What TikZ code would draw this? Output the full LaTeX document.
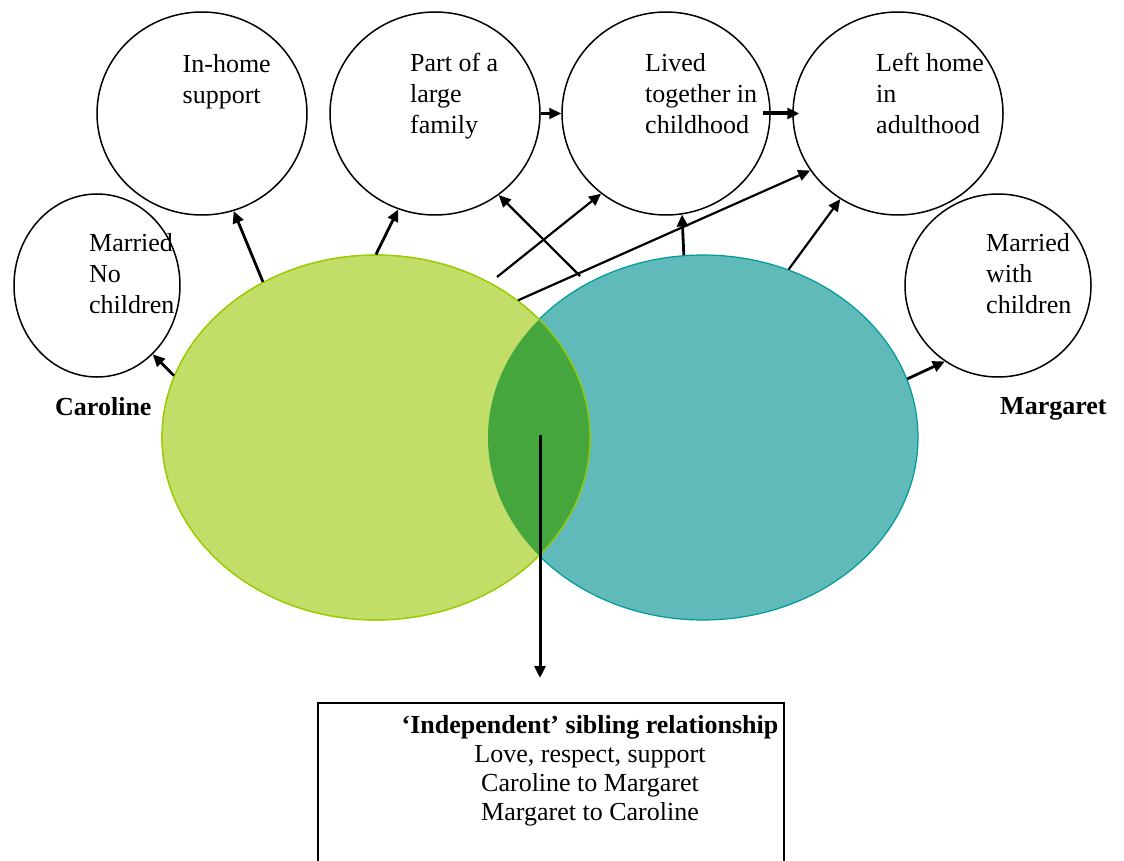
\documentclass[tikz,border=0pt]{standalone}
\usepackage{fontspec}
\setmainfont{Liberation Serif}
\usetikzlibrary{arrows.meta,shapes.geometric}

\definecolor{carolinefill}{RGB}{194,222,104}
\definecolor{carolineedge}{RGB}{153,204,0}
\definecolor{margaretfill}{RGB}{96,186,186}
\definecolor{margaretedge}{RGB}{0,153,153}
\definecolor{sharedfill}{RGB}{68,166,60}

\begin{document}
\begin{tikzpicture}[x=1pt,y=-1pt,
  theme/.style={ellipse, draw=black, line width=1.5pt, inner sep=0pt},
  sister/.style={ellipse, inner sep=0pt, line width=1.2pt, minimum height=365pt},
  % multi-line texts are anchored at the baseline of their last line
  circtext/.style={align=left, anchor=base west, inner sep=0pt, font=\fontsize{26}{31}\selectfont},
  namelabel/.style={anchor=base west, inner sep=0pt, font=\fontsize{26}{31}\selectfont\bfseries},
  link/.style={line width=2.8pt, -{Triangle[length=12pt,width=11pt]}},
  thinlink/.style={link, line width=2.2pt},
]
\useasboundingbox (0,0) rectangle (1124,861);

% the two sisters
\node[sister, fill=margaretfill, draw=margaretedge, minimum width=430pt] (margaret) at (703,437.5) {};
\node[sister, fill=carolinefill, draw=carolineedge, minimum width=428pt] (caroline) at (376,437.5) {};
\begin{scope}
  \clip (376,437.5) ellipse [x radius=214pt, y radius=182.5pt];
  \fill[sharedfill] (703,437.5) ellipse [x radius=215pt, y radius=182.5pt];
\end{scope}
\draw[carolineedge, line width=1.2pt] (376,437.5) ellipse [x radius=214pt, y radius=182.5pt];

% life-course themes
\node[theme, minimum width=210pt, minimum height=203pt] (inhome)   at (202,113.5) {};
\node[theme, minimum width=210pt, minimum height=203pt] (family)   at (435,113.5) {};
\node[theme, minimum width=208pt, minimum height=203pt] (together) at (666,113.5) {};
\node[theme, minimum width=210pt, minimum height=203pt] (lefthome) at (898,113.5) {};
\node[theme, minimum width=166pt, minimum height=183pt] (nokids)   at (97,285.5) {};
\node[theme, minimum width=186pt, minimum height=183pt] (withkids) at (998,285.5) {};

\node[circtext] (inhomeT)   at (182.5,104) {In-home\\support};
\node[circtext] (familyT)   at (410,134)   {Part of a\\large\\family};
\node[circtext] (togetherT) at (645,134)   {Lived\\together in\\childhood};
\node[circtext] (lefthomeT) at (876,134)   {Left home\\in\\adulthood};
\node[circtext] (nokidsT)   at (89,313)    {Married\\No\\children};
\node[circtext] (withkidsT) at (986,313)   {Married\\with\\children};

\node[namelabel] (carolineL) at (55,415)   {Caroline};
\node[namelabel] (margaretL) at (1000,414) {Margaret};

% relationship summary
\node[draw, line width=1.6pt, minimum width=466pt, minimum height=220pt,
      anchor=north west, inner sep=0pt] (summary) at (317,702) {};
\node[align=center, anchor=base, inner sep=0pt, font=\fontsize{26}{29}\selectfont]
  (summaryT) at (590,820)
  {\textbf{‘Independent’ sibling relationship}\\Love, respect, support\\Caroline to Margaret\\Margaret to Caroline};

% connectors
\coordinate (crossA) at (580,276);
\coordinate (crossB) at (497,277);
\coordinate (core) at (540,435);

\draw[link] (caroline.163.5) -- (nokids.-51.6);
\draw[link] (caroline.126.8) -- (inhome.-72.5);
\draw[link] (caroline.90.9) -- (family.-111);
\draw[thinlink] (crossA) -- (family.-52);
\draw[thinlink] (crossB) -- (together.-129.7);
\draw[thinlink] (caroline.44.9) -- (lefthome.-147.9);
\draw[link] (margaret.96.6) -- (together.-81);
\draw[thinlink] (margaret.63.5) -- (lefthome.-124.5);
\draw[link] (margaret.16.7) -- (withkids.-125.5);
\draw[thinlink] (family.east) -- (together.west);
\draw[link, line width=4pt, shorten <=-8pt, shorten >=-7pt] (together.east) -- (lefthome.west);
\draw[link, line width=3pt, shorten >=24pt] (core) -- (core |- summary.north);
\end{tikzpicture}
\end{document}
